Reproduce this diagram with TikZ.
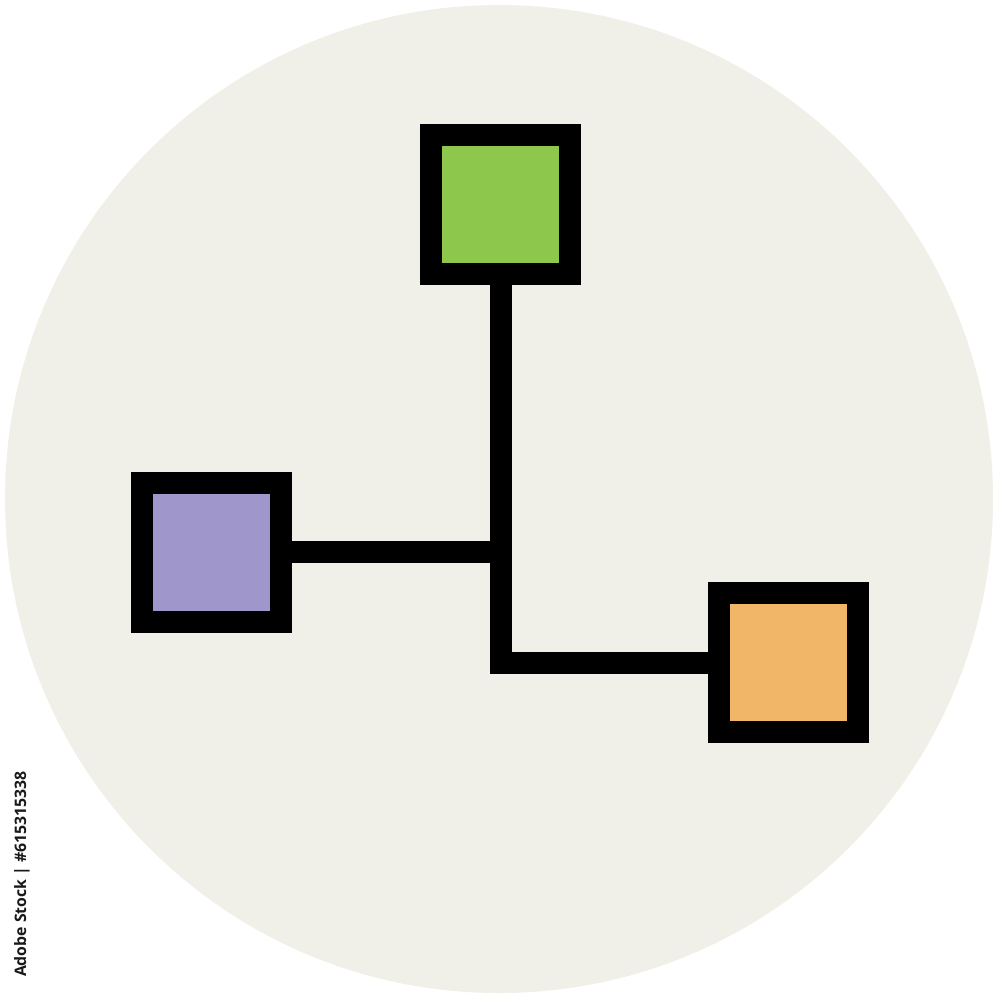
\documentclass[tikz,border=0pt]{standalone}
\usepackage{fontspec}
\newfontfamily\stockfont{Open Sans}
\definecolor{bgc}{HTML}{F0EFE8}
\definecolor{greenc}{HTML}{8DC84C}
\definecolor{purplec}{HTML}{9F97CB}
\definecolor{orangec}{HTML}{F2B668}
\begin{document}
\begin{tikzpicture}[x=0.1mm,y=-0.1mm,
  box/.style={draw=black, line width=2.2mm, minimum size=13.9mm, inner sep=0pt, outer sep=0pt},
  link/.style={draw=black, line width=2.2mm, line join=miter}]
\useasboundingbox (0,0) rectangle (1000,1000);
\fill[white] (0,0) rectangle (1000,1000);
\fill[bgc] (499,499) circle[radius=49.4mm];
\node[box, fill=greenc] (g) at (500.5,204.5) {};
\node[box, fill=purplec] (p) at (211.5,552) {};
\node[box, fill=orangec] (o) at (788.5,662.5) {};
\draw[link] (g.south) |- (o.west);
\draw[link] (p.east) -- (p.east -| g.south);
\node[rotate=90, text=black!90, font=\stockfont\bfseries\fontsize{4.5pt}{5pt}\selectfont] (id) at (22,874) {Adobe Stock | \#615315338};
\end{tikzpicture}
\end{document}
